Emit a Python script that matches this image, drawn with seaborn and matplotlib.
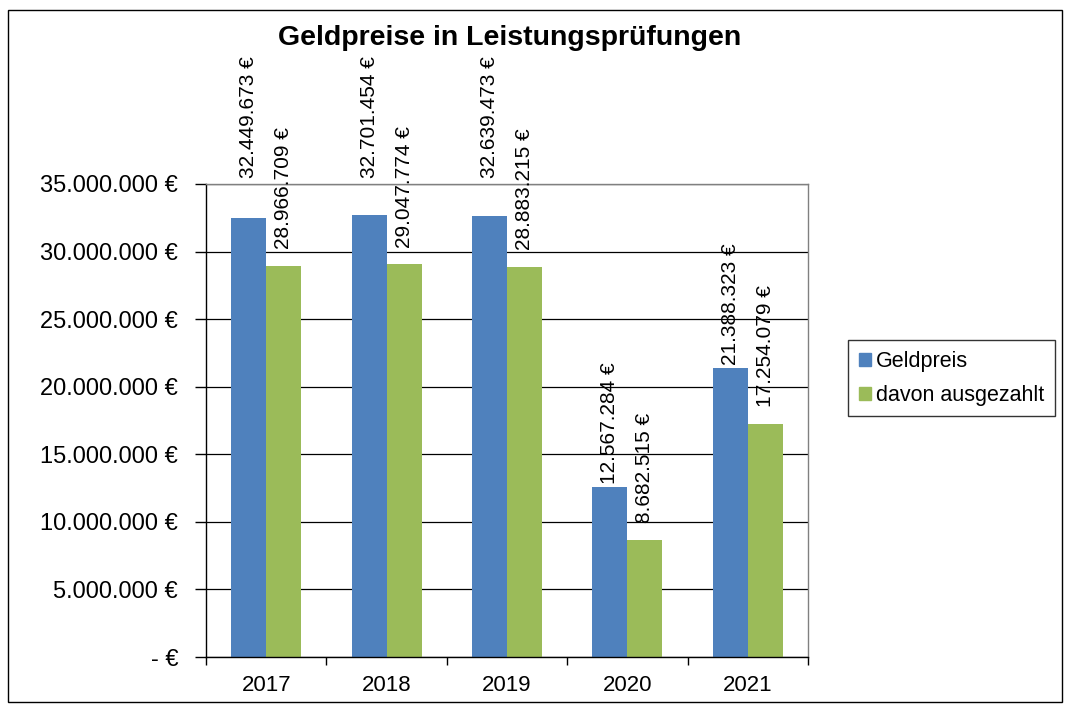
import matplotlib
matplotlib.use("Agg")
import matplotlib.pyplot as plt
import matplotlib.ticker as mticker
import matplotlib.patches as mpatches
import seaborn as sns
import pandas as pd

years = ["2017", "2018", "2019", "2020", "2021"]
geldpreis = [32449673, 32701454, 32639473, 12567284, 21388323]
ausgezahlt = [28966709, 29047774, 28883215, 8682515, 17254079]
series_names = ["Geldpreis", "davon ausgezahlt"]
colors = ["#4F81BD", "#9BBB59"]

df = pd.DataFrame({
    "Jahr": years * 2,
    "Wert": geldpreis + ausgezahlt,
    "Serie": [series_names[0]] * len(years) + [series_names[1]] * len(years),
})

sns.set_theme(style="white")
plt.rcParams["font.family"] = ["Liberation Sans", "DejaVu Sans"]
plt.rcParams["text.color"] = "black"

fig = plt.figure(figsize=(10.66, 7.06), dpi=100)
ax = fig.add_axes([206 / 1066, 1 - 657 / 706, (808 - 206) / 1066, (657 - 184) / 706])

sns.barplot(data=df, x="Jahr", y="Wert", hue="Serie", palette=colors,
            width=0.58, gap=0, ax=ax, saturation=1, legend=False, linewidth=0)

ymax = 35000000
ax.set_ylim(0, ymax)
ax.set_xlim(-0.5, len(years) - 0.5)


def de_fmt(v):
    return f"{int(round(v)):,}".replace(",", ".") + " €"


series_offsets = [2, 12]  # points above bar top, per series
for ci, cont in enumerate(ax.containers):
    for b in cont:
        h = b.get_height()
        xc = b.get_x() + b.get_width() / 2
        if ci == 0 and h > 0.9 * ymax:
            # Excel pushes tall primary-series labels just above the plot area
            y_anchor, off = ymax, 4
        else:
            y_anchor, off = h, series_offsets[ci]
        ax.annotate(de_fmt(h), xy=(xc, y_anchor), xytext=(0, off), textcoords="offset points",
                    rotation=90, ha="center", va="bottom", fontsize=15, color="black",
                    annotation_clip=False)

ax.yaxis.set_major_locator(mticker.MultipleLocator(5000000))
ax.yaxis.set_major_formatter(mticker.FuncFormatter(lambda v, p: "- €" if v == 0 else de_fmt(v)))
ax.grid(axis="y", color="black", linewidth=0.9)
ax.set_axisbelow(True)
ax.set_xlabel("")
ax.set_ylabel("")

ax.xaxis.set_minor_locator(mticker.FixedLocator([i - 0.5 for i in range(len(years) + 1)]))
ax.tick_params(axis="x", which="major", length=0, labelsize=16, pad=13, colors="black")
ax.tick_params(axis="x", which="minor", length=6, width=1, direction="out", color="black", bottom=True)
ax.tick_params(axis="y", which="major", length=8, width=1, direction="out", left=True,
               labelsize=17, pad=12, colors="black")

for s in ["left", "bottom"]:
    ax.spines[s].set_color("black")
    ax.spines[s].set_linewidth(1)
for s in ["top", "right"]:
    ax.spines[s].set_color("#808080")
    ax.spines[s].set_linewidth(1)

handles = [mpatches.Patch(color=c, label=n) for c, n in zip(colors, series_names)]
leg = fig.legend(handles=handles, loc="upper left", bbox_to_anchor=(848 / 1066, 1 - 340 / 706),
                 frameon=True, fontsize=15.5, handlelength=0.55, handleheight=0.55,
                 handletextpad=0.25, borderpad=0.5, labelspacing=0.6, fancybox=False,
                 borderaxespad=0, labelcolor="black")
leg.get_frame().set_edgecolor("black")
leg.get_frame().set_linewidth(1)

fig.text(510 / 1066, 1 - 38 / 706, "Geldpreise in Leistungsprüfungen", ha="center", va="center",
         fontsize=20.5, fontweight="bold", color="black")

fig.patches.append(mpatches.Rectangle((8 / 1066, 1 - 702 / 706), (1062 - 8) / 1066, (702 - 10) / 706,
                                      transform=fig.transFigure, fill=False, edgecolor="black",
                                      linewidth=1))

fig.savefig("out.png", dpi=100)
